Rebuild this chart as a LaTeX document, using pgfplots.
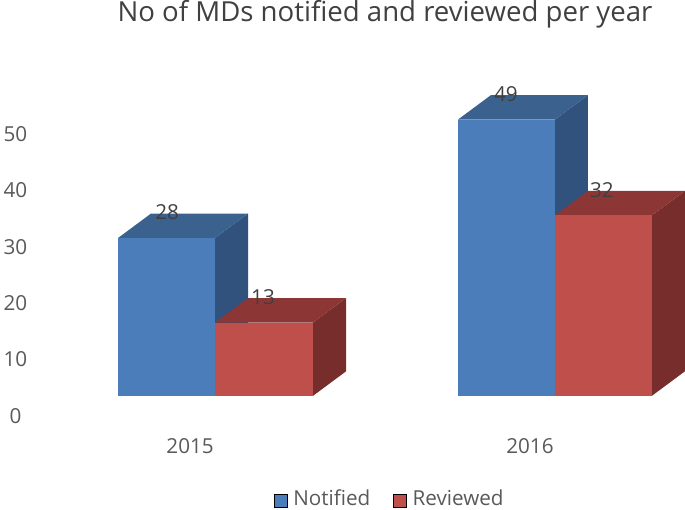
\documentclass[border=0pt]{standalone}
\usepackage{fontspec}
\setmainfont{Open Sans}
\usepackage{pgfplots}
\pgfplotsset{compat=1.18}
\definecolor{bluefront}{HTML}{4B7DBB}
\definecolor{blueside}{HTML}{30527D}
\definecolor{bluetop}{HTML}{3B618F}
\definecolor{redfront}{HTML}{BE4F4B}
\definecolor{redside}{HTML}{772D2C}
\definecolor{redtop}{HTML}{8C3735}
\definecolor{txt}{HTML}{595959}
\definecolor{lbl}{HTML}{404040}

\begin{document}
\begin{tikzpicture}
\begin{axis}[
    scale only axis,
    width=513.75pt,
    height=381.75pt,
    xmin=0, xmax=685,
    ymin=-16.667, ymax=73.58,
    axis line style={draw=none},
    major tick length=0pt,
    clip=false,
    ytick={0,10,20,30,40,50},
    xtick={190,530},
    xticklabels={2015,2016},
    /pgf/number format/assume math mode=true,
    y tick label style={font=\fontsize{15.5}{18}\selectfont, text=txt, anchor=center, inner sep=0pt, xshift=11.5pt},
    x tick label style={font=\fontsize{15.5}{18}\selectfont, text=txt, anchor=center, yshift=47.5pt},
    legend columns=2,
    legend style={draw=none, fill=none, at={(axis cs:390,-16.667)}, anchor=south, inner sep=0pt, outer sep=0pt,
        font=\fontsize{15.5}{18}\selectfont, text=txt,
        nodes={text height=11.5pt, text depth=1pt},
        /tikz/column 1/.style={column sep=2.5pt},
        /tikz/column 2/.style={column sep=15pt},
        /tikz/column 3/.style={column sep=2.5pt}},
    legend image code/.code={\fill[#1] (0pt,-6.3pt) rectangle (9.8pt,3.5pt);},
]
\addlegendimage{fill=bluefront}
\addlegendentry{Notified}
\addlegendimage{fill=redfront}
\addlegendentry{Reviewed}

% 2015 Notified (28), x in picture px, y in value units (bars sit 3.55 above tick 0)
\addplot[fill=blueside, draw=none, forget plot] coordinates {(215,3.55) (248,7.89) (248,35.89) (215,31.55)} --cycle;
\addplot[fill=bluetop, draw=none, forget plot] coordinates {(118,31.55) (151,35.89) (248,35.89) (215,31.55)} --cycle;
\addplot[fill=bluefront, draw=none, forget plot] coordinates {(118,3.55) (215,3.55) (215,31.55) (118,31.55)} --cycle;
% 2015 Reviewed (13)
\addplot[fill=redside, draw=none, forget plot] coordinates {(313,3.55) (346,7.89) (346,20.89) (313,16.55)} --cycle;
\addplot[fill=redtop, draw=none, forget plot] coordinates {(215,16.55) (248,20.89) (346,20.89) (313,16.55)} --cycle;
\addplot[fill=redfront, draw=none, forget plot] coordinates {(215,3.55) (313,3.55) (313,16.55) (215,16.55)} --cycle;
% 2016 Notified (49)
\addplot[fill=blueside, draw=none, forget plot] coordinates {(555,3.55) (588,7.89) (588,56.89) (555,52.55)} --cycle;
\addplot[fill=bluetop, draw=none, forget plot] coordinates {(458,52.55) (491,56.89) (588,56.89) (555,52.55)} --cycle;
\addplot[fill=bluefront, draw=none, forget plot] coordinates {(458,3.55) (555,3.55) (555,52.55) (458,52.55)} --cycle;
% 2016 Reviewed (32)
\addplot[fill=redside, draw=none, forget plot] coordinates {(652,3.55) (685,7.89) (685,39.89) (652,35.55)} --cycle;
\addplot[fill=redtop, draw=none, forget plot] coordinates {(555,35.55) (588,39.89) (685,39.89) (652,35.55)} --cycle;
\addplot[fill=redfront, draw=none, forget plot] coordinates {(555,3.55) (652,3.55) (652,35.55) (555,35.55)} --cycle;

% data labels
\addplot[only marks, mark=none, forget plot, point meta=explicit symbolic,
    nodes near coords, every node near coord/.style={anchor=center, inner sep=0pt,
    font=\fontsize{15.5}{18}\selectfont, text=lbl}]
    table[meta=l] {
x y l
167 36.1 28
263 21.0 13
506 57.1 49
602 40.1 32
};

\node[anchor=center, inner sep=0pt, font=\fontsize{20.7}{22}\selectfont, text=lbl] at (axis cs:385,71.3) {No of MDs notified and reviewed per year};
\end{axis}
\end{tikzpicture}
\end{document}
